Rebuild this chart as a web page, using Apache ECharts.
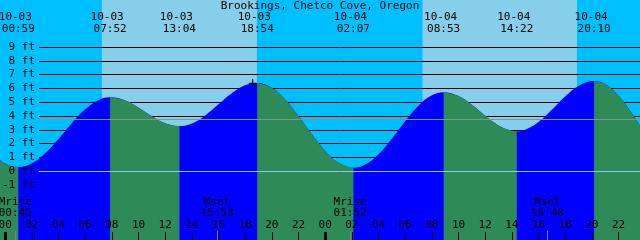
<!DOCTYPE html>
<html><head><meta charset="utf-8">
<script src="https://cdn.jsdelivr.net/npm/echarts@6/dist/echarts.min.js"></script>
<style>html,body{margin:0;padding:0;background:#00BFFF}#c{width:640px;height:240px}</style>
</head><body><div id="c"></div>
<script>
const chartTitle = 'Brookings, Chetco Cove, Oregon';
// tide extremes (high / low)
const eventDates = ['10-03','10-03','10-03','10-03','10-04','10-04','10-04','10-04'];
const eventTimes = ['00:59','07:52','13:04','18:54','02:07','08:53','14:22','20:10'];
const eventFeet  = [0.3, 5.35, 3.27, 6.4, 0.25, 5.73, 2.9, 6.53];
// tide curve readings, hours since 10-03 00:00
const tideHours = [-0.39,0,0.5,2,3,4,5,6,7,9,10,11,12,14,15,16,17,18,20,21,22,23,24,25,27,28,29,30,31,32,34,35,36,37,38,39,40,41,42,43,45,46,47,47.61];
const tideFeet  = [0.82,0.55,0.35,0.57,1.30,2.34,3.48,4.48,5.15,5.12,4.60,3.98,3.48,3.46,4.04,4.85,5.65,6.22,6.05,5.20,4.00,2.67,1.47,0.61,0.48,1.23,2.36,3.62,4.75,5.50,5.45,4.81,4.01,3.31,2.93,3.01,3.57,4.45,5.42,6.18,6.30,5.47,4.20,3.30];
// day light (sunrise/sunset)
const sunDates    = ['10-03','10-04'];
const sunriseTimes = ['07:15','07:18'];
const sunsetTimes  = ['18:53','18:53'];
// moon events
const moonNames = ['Mrise','Mset','Mrise','Mset'];
const moonDates = ['10-03','10-03','10-04','10-04'];
const moonTimes = ['00:45','15:53','01:52','16:40'];
// axis ticks
const hourTicks = [0,2,4,6,8,10,12,14,16,18,20,22,24,26,28,30,32,34,36,38,40,42,44,46];
const midnightTicks = [0,24];
const footTicks = [-1,0,1,2,3,4,5,6,7,8,9];
const datumFeet = 0;
const mslFeet = 3.73;
// "+" mark on the curve
const markHour = 18.56;
const markFeet = 6.37;

const FONT = 'DejaVu Sans Mono';
const X_MIN = -0.39, X_MAX = 47.61;
const Y_MIN = -4.986, Y_MAX = 12.406;
function dayOff(d){ return Number(d.slice(3)) - 3; }
function hrs(d, hm){ const p = hm.split(':').map(Number); return dayOff(d)*24 + p[0] + p[1]/60; }

const eventHours = eventTimes.map((t,i)=>hrs(eventDates[i], t));
const moonHours = moonTimes.map((t,i)=>hrs(moonDates[i], t));
const dayBands = sunDates.map((d,i)=>[hrs(d, sunriseTimes[i]), hrs(d, sunsetTimes[i])]);

const pts = tideHours.map((t,i)=>[t, tideFeet[i]])
  .concat(eventHours.map((t,i)=>[t, eventFeet[i]]))
  .sort((a,b)=>a[0]-b[0]);
const bounds = [pts[0][0]].concat(eventHours, [pts[pts.length-1][0]]);
const ebbSeries = [];
for (let k=0; k<bounds.length-1; k++) {
  const a = bounds[k], c = bounds[k+1];
  const seg = pts.filter(p => p[0] >= a-1e-6 && p[0] <= c+1e-6);
  if (seg.length < 2) continue;
  if (seg[seg.length-1][1] < seg[0][1]) {
    ebbSeries.push({type:'line', xAxisIndex:0, yAxisIndex:0, data:seg, smooth:0.4, showSymbol:false,
      lineStyle:{width:0}, areaStyle:{color:'#2E8B57', opacity:1, origin:'start'}, z:3, silent:true});
  }
}
function nearest(arr, v){ let bi=0; arr.forEach((x,i)=>{ if (Math.abs(x-v) < Math.abs(arr[bi]-v)) bi=i; }); return bi; }

const txt = {fontFamily: FONT, fontSize: 11, color: '#000'};
const noLine = {show:false, onZero:false};
const chart = echarts.init(document.getElementById('c'), null, {renderer:'canvas'});
chart.setOption({
  animation: false,
  backgroundColor: '#00BFFF',
  title: {text: chartTitle, left: 'center', top: 0, padding: 0,
    textStyle: Object.assign({fontWeight:'normal', lineHeight: 12}, txt)},
  grid: [
    {left:0, right:0, top:0, bottom:0, outerBoundsMode:'none', containLabel:false},
    {left:39, right:0, top:47, height:138, outerBoundsMode:'none', containLabel:false}
  ],
  xAxis: [
    {gridIndex:0, type:'value', min:X_MIN, max:X_MAX, position:'bottom', z:10,
      axisLine:noLine, splitLine:{show:false},
      axisTick:{show:true, inside:true, length:8, customValues: hourTicks, lineStyle:{color:'#000', width:1}},
      axisLabel:{show:true, inside:true, margin:9, customValues: hourTicks, lineHeight:12,
        formatter: v => String(((Math.round(v)%24)+24)%24).padStart(2,'0'), ...txt}},
    {gridIndex:0, type:'value', min:X_MIN, max:X_MAX, position:'top', z:10,
      axisLine:noLine, splitLine:{show:false}, axisTick:{show:false},
      axisLabel:{show:true, inside:true, margin:11, customValues: eventHours, lineHeight:12,
        formatter: v => { const i = nearest(eventHours, v); return '{d|' + eventDates[i] + '}\n' + eventTimes[i]; },
        rich:{d:{fontFamily:FONT, fontSize:11, color:'#000', padding:[0,6,0,0], lineHeight:12}}, ...txt}},
    {gridIndex:0, type:'value', min:X_MIN, max:X_MAX, position:'bottom', z:11,
      axisLine:noLine, splitLine:{show:false}, axisLabel:{show:false},
      axisTick:{show:true, inside:true, length:8, customValues: midnightTicks, lineStyle:{color:'#000', width:3}}},
    {gridIndex:0, type:'value', min:X_MIN, max:X_MAX, position:'bottom', z:10,
      axisLine:noLine, splitLine:{show:false},
      axisTick:{show:true, inside:true, length:9, customValues: moonHours, lineStyle:{color:'#7f7f7f', width:1}},
      axisLabel:{show:true, inside:true, margin:21, customValues: moonHours, lineHeight:11,
        formatter: v => { const i = nearest(moonHours, v); return moonNames[i] + '\n' + moonTimes[i]; }, ...txt}},
    {gridIndex:1, type:'value', min:0, max:1, show:false, axisLine:noLine}
  ],
  yAxis: [
    {gridIndex:0, type:'value', min:Y_MIN, max:Y_MAX, show:false, axisLine:noLine},
    {gridIndex:1, type:'value', position:'left', min:footTicks[0], max:footTicks[footTicks.length-1], interval:1, z:1,
      axisLine:noLine, axisTick:{show:false}, axisLabel:{show:false},
      splitLine:{show:true, lineStyle:{color:'#000', width:1}}},
    {gridIndex:1, type:'value', position:'left', offset:0, min:footTicks[0], max:footTicks[footTicks.length-1], interval:1, z:10,
      axisLine:noLine, axisTick:{show:false}, splitLine:{show:false},
      axisLabel:{show:true, margin:4, formatter: v => v + ' ft', ...txt}}
  ],
  series: [
    {type:'custom', xAxisIndex:0, yAxisIndex:0, z:0, silent:true, data: dayBands,
      encode:{x:[0,1]},
      renderItem: (params, api) => {
        const s = api.coord([api.value(0), Y_MAX]);
        const e = api.coord([api.value(1), Y_MIN]);
        return {type:'rect', shape:{x:s[0], y:s[1], width:e[0]-s[0], height:e[1]-s[1]}, style:{fill:'#87CEEB'}};
      }},
    {type:'line', xAxisIndex:0, yAxisIndex:0, data: pts, smooth:0.4, showSymbol:false, silent:true,
      lineStyle:{width:0}, areaStyle:{color:'#0000FF', opacity:1, origin:'start'}, z:2},
    ...ebbSeries,
    {type:'line', xAxisIndex:4, yAxisIndex:1, data:[], z:4, silent:true,
      markLine:{silent:true, symbol:'none', label:{show:false}, animation:false,
        data:[{yAxis: datumFeet, lineStyle:{color:'#87CEEB', width:1, type:'solid'}},
              {yAxis: mslFeet, lineStyle:{color:'#6e9e8c', width:1, type:'solid'}}]}},
    {type:'scatter', xAxisIndex:0, yAxisIndex:0, z:6, silent:true, data:[[markHour, markFeet]],
      symbol:'path://M3,0h1v3h3v1h-3v3h-1v-3h-3v-1h3z', symbolSize:8, itemStyle:{color:'#000', opacity:1}}
  ]
});
</script></body></html>
